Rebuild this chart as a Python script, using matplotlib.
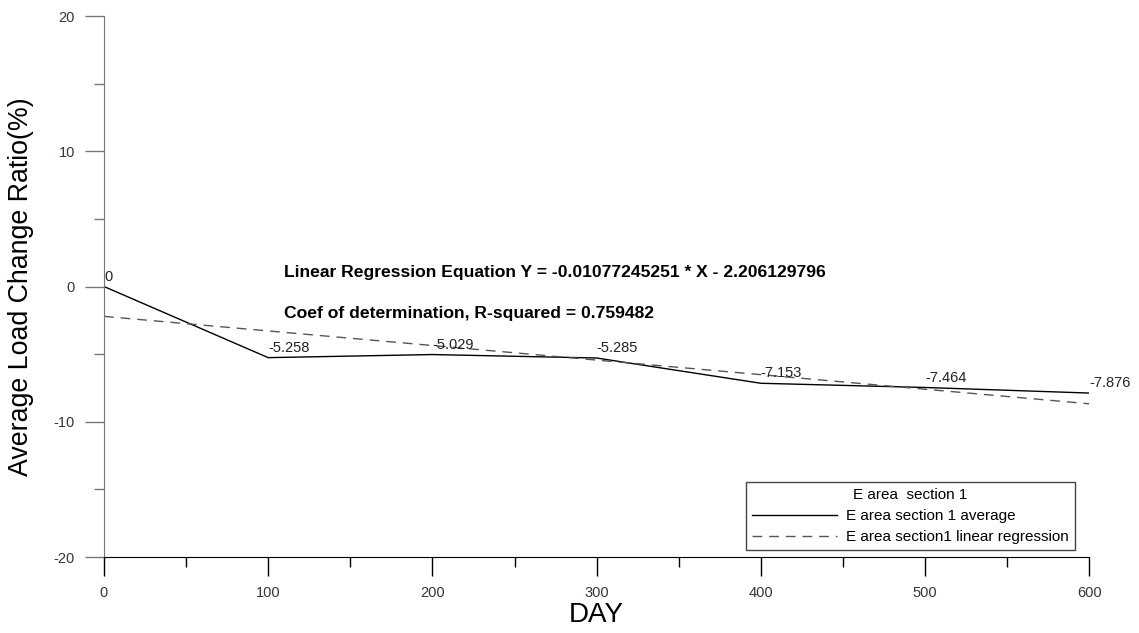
import numpy as np
import matplotlib
matplotlib.use("Agg")
import matplotlib.pyplot as plt

plt.rcParams["font.family"] = ["Liberation Sans", "DejaVu Sans"]
plt.rcParams["axes.unicode_minus"] = False

# data
days = [0, 100, 200, 300, 400, 500, 600]
avg_ratio = [0, -5.258, -5.029, -5.285, -7.153, -7.464, -7.876]
slope = -0.01077245251
intercept = -2.206129796
r_squared = 0.759482

fig = plt.figure(figsize=(11.39, 6.33), dpi=100)
ax = fig.add_axes([0.0913, 0.12, 0.865, 0.8547])

x = np.array(days)
ax.plot(x, avg_ratio, color="black", lw=1.0, label="E area section 1 average")
ax.plot(x, slope * x + intercept, color="#555555", lw=1.0, dashes=(7, 5),
        label="E area section1 linear regression")

for d, v in zip(days, avg_ratio):
    lbl = "0" if v == 0 else f"{v:g}"
    ax.annotate(lbl, (d, v), xytext=(0, 2), textcoords="offset points",
                ha="left", va="bottom", fontsize=10.5, color="#222222")

ax.text(109.5, 1.07, f"Linear Regression Equation Y = {slope} * X - {abs(intercept)}",
        fontsize=12.6, fontweight="bold", va="center", ha="left")
ax.text(109.5, -1.96, f"Coef of determination, R-squared = {r_squared}",
        fontsize=12.6, fontweight="bold", va="center", ha="left")

ax.set_xlim(0, 600)
ax.set_ylim(-20, 20)
ax.set_xticks(range(0, 601, 100))
ax.set_xticks(range(50, 600, 100), minor=True)
ax.set_yticks([-20, -10, 0, 10, 20])
ax.set_yticks([-15, -5, 5, 15], minor=True)

for s in ["top", "right"]:
    ax.spines[s].set_visible(False)
ax.spines["left"].set_color("#777777")
ax.spines["bottom"].set_color("black")
ax.tick_params(axis="both", which="major", length=14, width=1, labelsize=10.5,
               labelcolor="#333344", pad=7)
ax.tick_params(axis="both", which="minor", length=7, width=1)
ax.tick_params(axis="y", which="both", color="#777777")

ax.set_xlabel("DAY", fontsize=20, labelpad=1)
ax.set_ylabel("Average Load Change Ratio(%)", fontsize=19.3, labelpad=14)

leg = ax.legend(title="E area  section 1", loc="lower right",
                bbox_to_anchor=(0.9858, 0.013), borderaxespad=0,
                fontsize=11, title_fontsize=11,
                handlelength=5.6, handletextpad=0.6, fancybox=False,
                framealpha=1, edgecolor="#444444", borderpad=0.4,
                labelspacing=0.45)
leg.get_frame().set_linewidth(1.0)

fig.savefig("out.png", dpi=100)
